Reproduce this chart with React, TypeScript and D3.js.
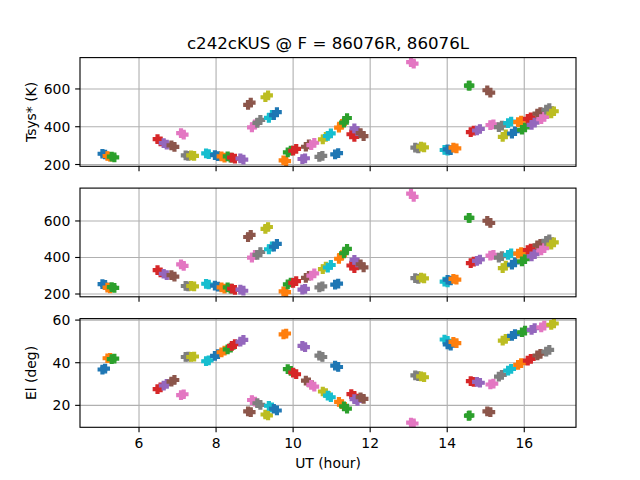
import * as d3 from 'd3'

// one entry per scan: [first point, second point]
const ut = [
  [5.05, 5.12], [5.18, 5.25], [5.29, 5.36], [6.48, 6.56], [6.64, 6.72], [6.84, 6.92],
  [7.09, 7.16], [7.21, 7.28], [7.35, 7.43], [7.74, 7.81], [7.97, 8.05], [8.14, 8.22],
  [8.3, 8.38], [8.41, 8.49], [8.63, 8.71], [8.83, 8.9], [8.93, 9.01], [9.07, 9.15],
  [9.28, 9.35], [9.37, 9.45], [9.5, 9.58], [9.75, 9.82], [9.86, 9.94], [10.0, 10.08],
  [10.24, 10.31], [10.33, 10.41], [10.47, 10.55], [10.68, 10.76], [10.77, 10.85], [10.9, 10.98],
  [11.09, 11.17], [11.19, 11.27], [11.32, 11.4], [11.51, 11.59], [11.59, 11.67], [11.75, 11.83],
  [13.06, 13.13], [13.17, 13.25], [13.32, 13.4], [13.93, 14.01], [14.01, 14.09], [14.16, 14.24],
  [14.56, 14.58], [14.61, 14.69], [14.77, 14.85], [15.04, 15.12], [15.12, 15.2], [15.34, 15.42],
  [15.44, 15.52], [15.58, 15.66], [15.68, 15.76], [15.84, 15.92], [15.94, 16.02], [16.09, 16.17],
  [16.19, 16.27], [16.34, 16.42], [16.44, 16.52], [16.57, 16.65], [16.7, 16.77],
]

const tsysR = [
  [257, 253], [245, 241], [242, 238], [334, 322], [313, 305], [301, 293],
  [366, 358], [248, 246], [248, 246], [259, 255], [250, 244], [243, 237],
  [243, 237], [237, 231], [232, 226], [516, 528], [397, 413], [420, 436],
  [556, 566], [447, 463], [461, 477], [222, 218], [264, 274], [273, 283],
  [229, 233], [294, 306], [303, 315], [240, 246], [333, 347], [351, 365],
  [254, 260], [395, 415], [422, 446], [360, 346], [391, 377], [366, 350],
  [742, 734], [289, 285], [295, 291], [277, 273], [280, 276], [289, 285],
  [618, 618], [371, 379], [380, 388], [593, 581], [409, 413], [398, 406],
  [346, 360], [419, 427], [364, 376], [424, 432], [384, 396], [442, 450],
  [410, 422], [469, 477], [440, 452], [490, 498], [470, 482],
]

const tsysL = [
  [254, 250], [235, 231], [238, 234], [331, 319], [311, 303], [303, 295],
  [362, 354], [244, 242], [244, 242], [256, 252], [246, 240], [236, 230],
  [236, 230], [229, 223], [224, 218], [512, 524], [399, 415], [414, 430],
  [557, 567], [445, 461], [459, 475], [214, 210], [253, 263], [261, 271],
  [224, 228], [288, 300], [301, 313], [236, 242], [336, 350], [345, 359],
  [251, 257], [393, 413], [423, 447], [356, 342], [387, 373], [362, 346],
  [750, 732], [287, 283], [290, 286], [268, 264], [278, 274], [283, 279],
  [617, 617], [369, 377], [381, 389], [601, 589], [410, 414], [399, 407],
  [342, 356], [414, 422], [361, 373], [421, 429], [379, 391], [441, 449],
  [406, 418], [467, 475], [439, 451], [491, 499], [471, 483],
]

const el = [
  [36.8, 37.2], [42.1, 42.3], [41.7, 41.9], [27.6, 28.4], [29.3, 30.1], [31.1, 31.9],
  [24.8, 25.2], [42.7, 42.9], [42.7, 42.9], [40.7, 41.1], [43.2, 44.0], [44.9, 45.7],
  [46.3, 47.1], [47.9, 48.7], [49.9, 50.7], [17.2, 16.8], [22.5, 21.7], [21.0, 20.2],
  [15.7, 15.3], [19.8, 19.0], [18.4, 17.6], [53.3, 53.7], [37.0, 36.2], [35.4, 34.6],
  [47.9, 47.3], [31.6, 30.8], [29.6, 28.8], [43.3, 42.7], [26.5, 25.7], [24.6, 23.8],
  [38.6, 38.0], [21.6, 20.6], [19.5, 18.5], [25.3, 24.5], [22.9, 22.1], [23.8, 23.0],
  [11.9, 11.5], [34.1, 33.7], [33.6, 33.2], [50.9, 50.3], [48.6, 48.0], [49.8, 49.2],
  [15.1, 15.3], [31.4, 31.0], [31.0, 30.6], [17.2, 16.8], [29.8, 30.2], [33.5, 34.3],
  [50.4, 51.2], [36.3, 37.1], [52.6, 53.4], [39.0, 39.8], [54.3, 55.1], [41.0, 41.8],
  [55.4, 56.2], [43.4, 44.2], [56.6, 57.4], [45.2, 46.0], [57.8, 58.4],
]

const xTicks = [6, 8, 10, 12, 14, 16]
const tsysTicks = [200, 400, 600]
const elTicks = [20, 40, 60]

const W = 640
const H = 480
const left = 80
const right = 576
const panelH = 108.7
const panelTops = [57.6, 188.1, 318.6]
const font = 'DejaVu Sans, sans-serif'
const tickLen = 4.86
const lw = 1.11

const panels = [
  { values: tsysR, domain: [190.5, 766], ticks: tsysTicks, label: 'Tsys* (K)' },
  { values: tsysL, domain: [184.7, 780], ticks: tsysTicks, label: '' },
  { values: el, domain: [9.7, 60.7], ticks: elTicks, label: 'El (deg)' },
]

// matplotlib 'P' marker (filled plus), size 6pt at 100 dpi
function plusPath(size: number) {
  const u = size / 6
  const pts = [
    [-1, -3], [1, -3], [1, -1], [3, -1], [3, 1], [1, 1],
    [1, 3], [-1, 3], [-1, 1], [-3, 1], [-3, -1], [-1, -1],
  ]
  const p = d3.path()
  pts.forEach(([a, b], i) => (i === 0 ? p.moveTo(a * u, b * u) : p.lineTo(a * u, b * u)))
  p.closePath()
  return p.toString()
}

const marker = plusPath(8.33)
const colors = d3.schemeCategory10

export default function App() {
  const x = d3.scaleLinear().domain([4.468, 17.343]).range([left, right])

  return (
    <svg
      width={W}
      height={H}
      style={{ position: 'absolute', left: 0, top: 0, background: 'white' }}
      fontFamily={font}
    >
      <rect width={W} height={H} fill="white" />
      <text x={(left + right) / 2} y={49.3} textAnchor="middle" fontSize={16.67}>
        c242cKUS @ F = 86076R, 86076L
      </text>
      {panels.map((pn, pi) => {
        const top = panelTops[pi]
        const bottom = top + panelH
        const y = d3.scaleLinear().domain(pn.domain).range([bottom, top])
        const clipId = `clip${pi}`
        return (
          <g key={pi}>
            <defs>
              <clipPath id={clipId}>
                <rect x={left} y={top} width={right - left} height={panelH} />
              </clipPath>
            </defs>
            {/* grid */}
            {xTicks.map((t) => (
              <line key={'gx' + t} x1={x(t)} x2={x(t)} y1={top} y2={bottom} stroke="#b0b0b0" strokeWidth={lw} />
            ))}
            {pn.ticks.map((t) => (
              <line key={'gy' + t} x1={left} x2={right} y1={y(t)} y2={y(t)} stroke="#b0b0b0" strokeWidth={lw} />
            ))}
            {/* scans */}
            <g clipPath={`url(#${clipId})`}>
              {ut.map((us, si) =>
                us.map((u, k) => (
                  <path
                    key={si + '-' + k}
                    d={marker}
                    transform={`translate(${x(u)},${y(pn.values[si][k])})`}
                    fill={colors[si % 10]}
                    stroke={colors[si % 10]}
                    strokeWidth={1.39}
                    strokeLinejoin="miter"
                  />
                ))
              )}
            </g>
            {/* spines */}
            <rect x={left} y={top} width={right - left} height={panelH} fill="none" stroke="black" strokeWidth={lw} />
            {/* y ticks */}
            {pn.ticks.map((t) => (
              <g key={'ty' + t}>
                <line x1={left - tickLen} x2={left} y1={y(t)} y2={y(t)} stroke="black" strokeWidth={lw} />
                <text x={left - tickLen - 4.86} y={y(t)} dy="0.36em" textAnchor="end" fontSize={13.9}>
                  {t}
                </text>
              </g>
            ))}
            {/* x ticks */}
            {xTicks.map((t) => (
              <g key={'tx' + t}>
                <line x1={x(t)} x2={x(t)} y1={bottom} y2={bottom + tickLen} stroke="black" strokeWidth={lw} />
                {pi === 2 && (
                  <text x={x(t)} y={bottom + tickLen + 4.86 + 10.6} textAnchor="middle" fontSize={13.9}>
                    {t}
                  </text>
                )}
              </g>
            ))}
            {pn.label && (
              <text
                transform={`translate(${31},${top + panelH / 2}) rotate(-90)`}
                textAnchor="middle"
                dy="0.36em"
                fontSize={13.9}
              >
                {pn.label}
              </text>
            )}
          </g>
        )
      })}
      <text x={(left + right) / 2} y={468} textAnchor="middle" fontSize={13.9}>
        UT (hour)
      </text>
    </svg>
  )
}
